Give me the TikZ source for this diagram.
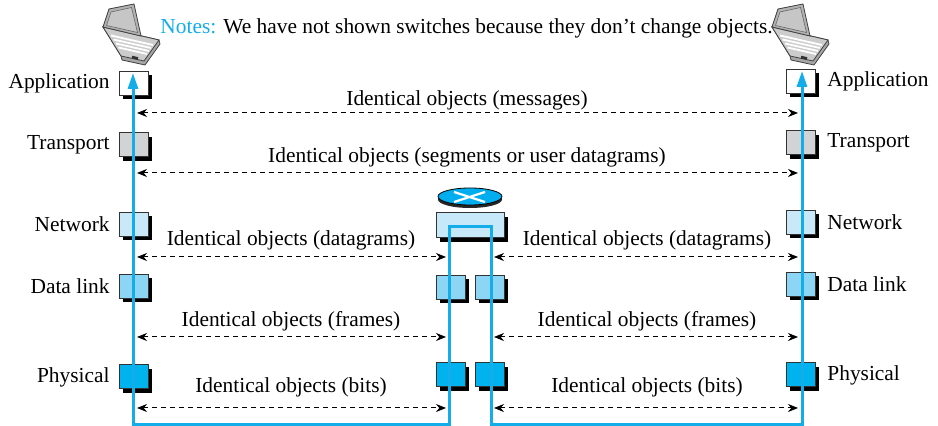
\documentclass[tikz,border=0pt]{standalone}
\usepackage{fontspec}
\setmainfont{Liberation Serif}
\usetikzlibrary{positioning,shadows,arrows.meta}

\definecolor{wire}{HTML}{13AEEA}
\definecolor{trcol}{HTML}{D1D3D4}
\definecolor{nwcol}{HTML}{C9E9F9}
\definecolor{dlcol}{HTML}{8DD5F5}
\definecolor{phcol}{HTML}{00B3EF}
\definecolor{rtrtop}{HTML}{00AEEF}
\definecolor{rtrbody}{HTML}{C6E8F8}

\tikzset{
    layerbox/.style={draw=black!80, line width=0.5pt, minimum width=14.5pt, minimum height=12pt, inner sep=0pt, outer sep=0pt,
        drop shadow={shadow xshift=2pt, shadow yshift=-2pt, fill=black, opacity=1}},
    layertext/.style={inner sep=0pt},
    objarrow/.style={dash pattern=on 2.5pt off 2pt, line width=0.5pt, {Stealth[length=5pt,width=4pt]}-{Stealth[length=5pt,width=4pt]}},
    objtext/.style={inner sep=0pt},
    laptop/.pic={
        % base
        \filldraw[fill=gray!70, draw=black!75, line width=0.4pt](0,24)--(18,53)--(19,57)--(42,62)--(57,41)--(56,37)--cycle;
        \filldraw[fill=gray!40, draw=black!75, line width=0.4pt](0,24)--(18,53)--(41,58)--(56,37)--cycle;
        \draw[white, line width=0.9pt](8,32.5)--(50,42) (10.5,36.5)--(48,45) (13,40.5)--(46,48) (15.5,44.5)--(44,51);
        \draw[black!80, line width=1.3pt](29,54)--(35,55.5);
        % lid
        \filldraw[fill=gray!60, draw=black!75, line width=0.4pt](0,24)--(6,6)--(31,1)--(38,33)--cycle;
        \filldraw[fill=gray!45, draw=black!60, line width=0.3pt](3.5,22.5)--(8,9)--(28.5,4.5)--(34.5,29.5)--cycle;
    }
}

\begin{document}
\begin{tikzpicture}[x=0.5pt, y=-0.5pt, font=\fontsize{10.7pt}{13pt}\selectfont]
    \path[use as bounding box, fill=white](0,0)rectangle(938,426);

    \pic at (103,3) {laptop};
    \pic at (772,3) {laptop};
    \node[anchor=west, inner sep=0pt](notes)at(160,28){\textcolor{wire}{Notes:} We have not shown switches because they don’t change objects.};

    % layers of both hosts
    \foreach \n/\y/\c/\t in {app/83.5/white/Application, tra/145/trcol/Transport, net/224.5/nwcol/Network, dl/286.5/dlcol/Data link, ph/377/phcol/Physical}{
        \node[layerbox, fill=\c](\n L)at(133.5,\y){};
        \node[layerbox, fill=\c](\n R)at(800.5,\y-2){};
        \node[layertext, left=4.5pt of \n L](\n Lt){\t};
        \node[layertext, right=6pt of \n R](\n Rt){\t};
    }

    % router
    \fill[black!85](470,199.5)ellipse[x radius=32, y radius=8.5];
    \filldraw[fill=rtrtop, draw=black, line width=0.4pt](470,196.5)ellipse[x radius=32, y radius=8.5];
    \draw[white, line width=1.1pt](454,192)--(485,202) (454,202)--(485,192);
    \node[layerbox, fill=rtrbody, minimum width=34pt, minimum height=12.5pt](rtr)at(470,225.5){};
    \foreach \n/\y/\c in {dl/287.5/dlcol, ph/375/phcol}{
        \node[layerbox, fill=\c](\n A)at(450.5,\y){};
        \node[layerbox, fill=\c](\n B)at(489.5,\y){};
    }

    % path of the data
    \coordinate(tipL)at(133,73);
    \coordinate(botL)at(133,424.5);
    \coordinate(rtrLb)at(449,424.5);
    \coordinate(rtrLt)at(449,227);
    \coordinate(rtrRt)at(491,227);
    \coordinate(rtrRb)at(491,424.5);
    \coordinate(botR)at(802,424.5);
    \coordinate(tipR)at(802,71);
    \draw[wire, line width=1.5pt, {Triangle[length=8pt,width=5pt]}-{Triangle[length=8pt,width=5pt]}]
        (tipL)--(botL)--(rtrLb)--(rtrLt)--(rtrRt)--(rtrRb)--(botR)--(tipR);

    % identical objects
    \foreach \n/\y in {msg/113, seg/173, dgm/257, frm/337, bit/408}{
        \coordinate(\n L)at(137,\y);
        \coordinate(\n A)at(446,\y);
        \coordinate(\n B)at(494,\y);
        \coordinate(\n R)at(798,\y);
    }
    \draw[objarrow](msgL)--(msgR);
    \draw[objarrow](segL)--(segR);
    \foreach \n in {dgm, frm, bit}{
        \draw[objarrow](\n L)--(\n A);
        \draw[objarrow](\n B)--(\n R);
    }
    \node[objtext](msgT)at(467,100){Identical objects (messages)};
    \node[objtext](segT)at(467,157){Identical objects (segments or user datagrams)};
    \foreach \n/\y/\t in {dgm/240/datagrams, frm/321/frames, bit/387/bits}{
        \node[objtext](\n Ta)at(291,\y){Identical objects (\t)};
        \node[objtext](\n Tb)at(647,\y){Identical objects (\t)};
    }
\end{tikzpicture}
\end{document}
